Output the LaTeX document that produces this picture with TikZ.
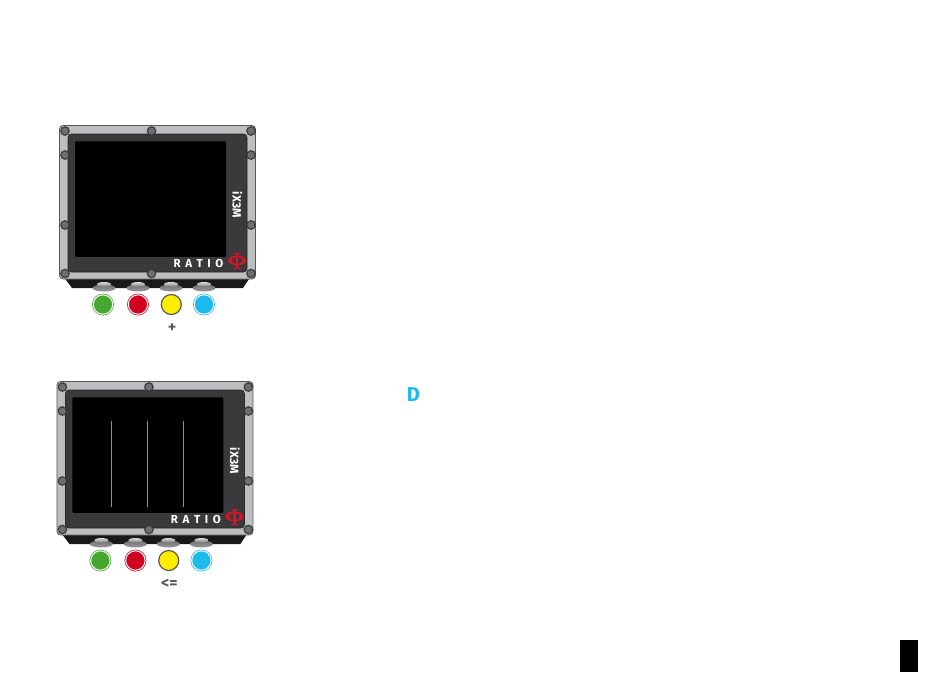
\documentclass[tikz,border=0pt]{standalone}
\usepackage{fontspec}
\setmainfont{Fira Sans}
\usetikzlibrary{shapes.geometric}

\definecolor{casegrey}{HTML}{BDBEC0}
\definecolor{caserim}{HTML}{58595B}
\definecolor{paneldark}{HTML}{3A393B}
\definecolor{screwgrey}{HTML}{6D6E70}
\definecolor{ratiored}{HTML}{D2142B}
\definecolor{btngreen}{HTML}{45A72F}
\definecolor{btnred}{HTML}{D0021F}
\definecolor{btnyellow}{HTML}{FFED00}
\definecolor{btnblue}{HTML}{1CBBEE}
\definecolor{labelgrey}{HTML}{58595B}

\tikzset{
    screw/.style={circle, draw=black!80, dash pattern=on 1.1pt off 0.5pt, fill=screwgrey, line width=1.3pt, minimum size=8.5pt, inner sep=0pt},
    button/.style={circle, minimum size=19.4pt, inner sep=0pt, line width=0.7pt, double distance=1pt},
    stud/.style={ellipse, minimum width=23pt, minimum height=7pt, inner sep=0pt, top color=black!55, middle color=white!90!black, bottom color=black!40},
    studneck/.style={ellipse, minimum width=14pt, minimum height=4.5pt, inner sep=0pt, top color=white!85!black, bottom color=black!50},
    keylabel/.style={text=labelgrey, font=\bfseries\fontsize{16}{16}\selectfont}
}

\begin{document}
\begin{tikzpicture}[x=1pt, y=-1pt]
    \useasboundingbox (0, 0) rectangle (950, 672);
    % Upper device, then lower device (same drawing, moved)
    \foreach \dev/\dx/\dy/\keytext in {one/0/0/{+}, two/-2.6/256/{<=}} {
        \begin{scope}[shift={(\dx, \dy)}]
            % Foot and pressure buttons
            \fill[black!90] (63, 276) -- (251, 276) -- (243, 288) -- (72, 288) -- cycle;
            \foreach \k/\bx in {a/104, b/138, c/171, d/204} {
                \node[stud] (stud\dev\k) at (\bx, 288) {};
                \node[studneck] (neck\dev\k) at (\bx, 284.3) {};
            }
            % Case
            \draw[caserim, fill=casegrey, line width=0.8pt, rounded corners=3.5pt] (59.5, 125.5) rectangle (255.5, 279);
            \draw[black!85, fill=paneldark, line width=0.7pt, rounded corners=3.5pt] (68, 134) rectangle (247, 272);
            \node[fill=black, minimum width=151pt, minimum height=115.5pt, inner sep=0pt, rounded corners=1pt] (screen\dev) at (150.5, 199.2) {};
            % Screws
            \foreach \k/\sx/\sy in {a/65/131, b/151.5/131, c/251/131, d/65/155, e/251/155, f/65/225, g/251/225, h/65/273.5, i/151.5/273.5, j/251/273.5} {
                \node[screw] (screw\dev\k) at (\sx, \sy) {};
            }
            % Lettering
            \node[text=white, rotate=-90, font=\bfseries\fontsize{12}{12}\selectfont] (model\dev) at (237.5, 205) {iX3M};
            \node[text=white, font=\bfseries\fontsize{11.5}{11.5}\selectfont] (ratio\dev) at (198.5, 264) {R\hspace{4.6pt}A\hspace{4.6pt}T\hspace{4.6pt}I\hspace{4.6pt}O};
            % Logo
            \fill[ratiored, even odd rule] (237, 260.5) ellipse [x radius=9, y radius=5] (237, 260.5) ellipse [x radius=5.5, y radius=3.6];
            \draw[ratiored, line width=2.4pt] (237, 253) -- (237, 268.5);
            \draw[ratiored, line width=0.9pt] (233.5, 253) -- (240.5, 253) (233.5, 268.5) -- (240.5, 268.5);
            % Keys
            \node[button, draw=btngreen, double=white, fill=btngreen] (green\dev) at (103, 304.5) {};
            \node[button, draw=btnred, double=white, fill=btnred] (red\dev) at (138, 304.5) {};
            \node[circle, minimum size=20pt, inner sep=0pt, draw=labelgrey, line width=1.2pt, fill=btnyellow] (yellow\dev) at (171.3, 304.5) {};
            \node[button, draw=btnblue, double=white, fill=btnblue] (blue\dev) at (204, 304.5) {};
            \node[keylabel] (key\dev) at (172, 328) {\keytext};
        \end{scope}
    }
    % Lines on the lower screen
    \foreach \k/\lx in {a/111.3, b/147.3, c/183.3} {
        \coordinate (top\k) at (\lx, 420.7);
        \coordinate (bot\k) at (\lx, 506.7);
        \draw[btnblue, line width=0.7pt] (top\k) -- (bot\k);
    }
    \node[text=btnblue, font=\bfseries\fontsize{20}{20}\selectfont] (letterd) at (413.5, 394.5) {D};
    \node[fill=black, minimum width=18pt, minimum height=32pt, inner sep=0pt, anchor=south west] (tab) at (900, 672) {};
\end{tikzpicture}
\end{document}
